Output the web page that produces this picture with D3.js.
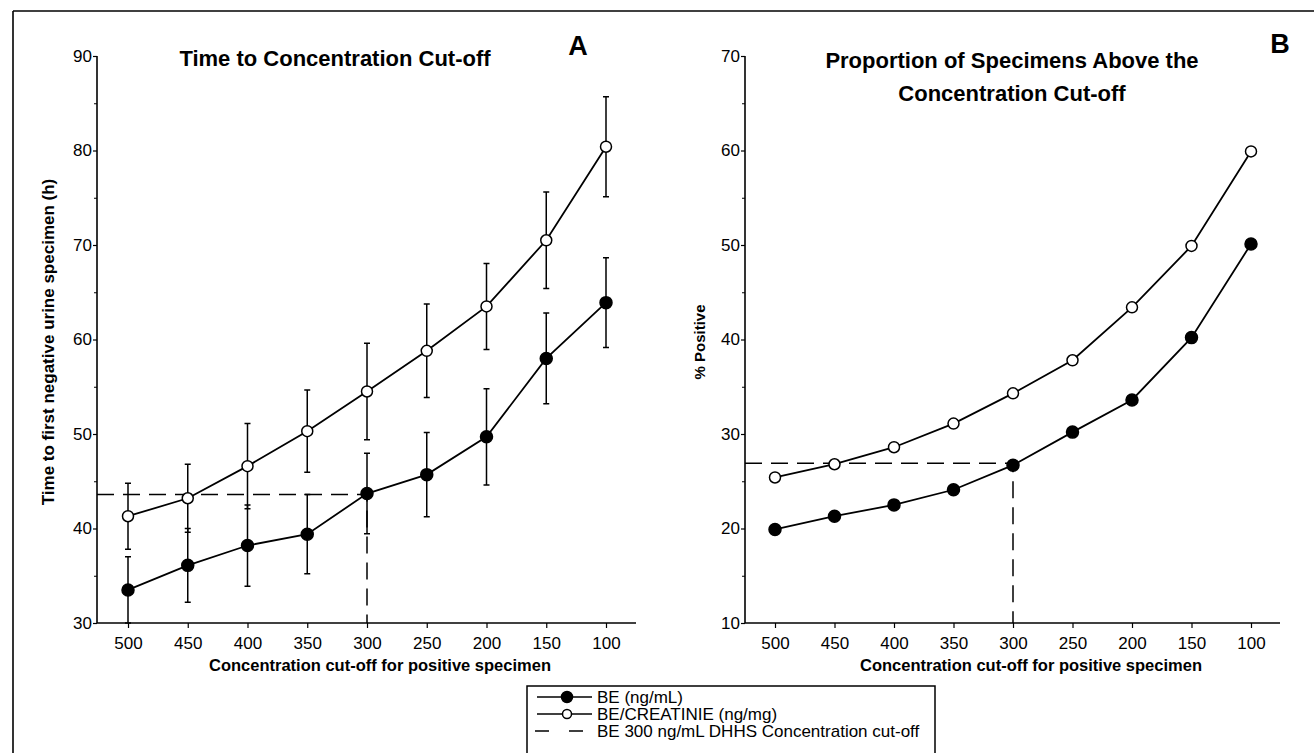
<!DOCTYPE html>
<html><head><meta charset="utf-8">
<script src="https://cdn.jsdelivr.net/npm/d3@7"></script>
<style>
html,body{margin:0;padding:0;background:#fff;}
svg{display:block;font-family:"Liberation Sans",Arial,Helvetica,sans-serif;}
</style></head>
<body><svg id="c" width="1314" height="753"></svg>
<script>
// ---- data ----
const cutoffs = [500, 450, 400, 350, 300, 250, 200, 150, 100];
const timeBE = [33.5, 36.1, 38.2, 39.4, 43.7, 45.7, 49.7, 58.0, 63.9];
const timeBEerr = [3.5, 3.9, 4.3, 4.2, 4.25, 4.45, 5.1, 4.8, 4.75];
const timeCR = [41.3, 43.2, 46.6, 50.3, 54.5, 58.8, 63.5, 70.5, 80.4];
const timeCRerr = [3.5, 3.6, 4.5, 4.35, 5.1, 4.95, 4.55, 5.1, 5.3];
const posBE = [19.9, 21.3, 22.5, 24.1, 26.7, 30.2, 33.6, 40.2, 50.1];
const posCR = [25.4, 26.8, 28.6, 31.1, 34.3, 37.8, 43.4, 49.9, 59.9];
const refCutoff = 300;
const refTime = 43.6;
const refPos = 26.9;
const yTicksA = [30, 40, 50, 60, 70, 80, 90];
const yTicksB = [10, 20, 30, 40, 50, 60, 70];
const legendLabels = ["BE (ng/mL)", "BE/CREATINIE (ng/mg)", "BE 300 ng/mL DHHS Concentration cut-off"];

const svg = d3.select("#c");
const FONT = '"Liberation Sans",Arial,Helvetica,sans-serif';

// frame
svg.append("line").attr("x1",13).attr("y1",11).attr("x2",1314).attr("y2",11).attr("stroke","#000").attr("stroke-width",1.6);
svg.append("line").attr("x1",13).attr("y1",11).attr("x2",13).attr("y2",753).attr("stroke","#000").attr("stroke-width",1.6);

function panel(opt){
  const g = svg.append("g");
  const x = d3.scalePoint().domain(cutoffs).range([opt.x0, opt.x1]);
  const y = d3.scaleLinear().domain(opt.ydom).range([opt.yb, opt.yt]);
  // y axis
  const minor = d3.range(opt.ydom[0], opt.ydom[1]+0.01, 5).filter(v => v % 10 !== 0);
  const ya = g.append("g").attr("transform",`translate(${opt.ax},0)`)
    .call(d3.axisLeft(y).tickValues(opt.yticks).tickSize(4).tickPadding(1).tickFormat(d3.format("d")));
  ya.select(".domain").attr("d",`M0,${y(opt.ydom[1])}V${opt.yb}`).attr("stroke-width",1.6);
  ya.selectAll("text").attr("font-size",17).attr("font-family",FONT).attr("fill","#000");
  ya.selectAll(".tick line").attr("stroke-width",1.2);
  g.append("g").attr("transform",`translate(${opt.ax},0)`)
    .call(d3.axisLeft(y).tickValues(minor).tickSize(3).tickFormat(""))
    .call(s=>s.select(".domain").remove());
  // x axis
  const xa = g.append("g").attr("transform",`translate(0,${opt.yb})`)
    .call(d3.axisBottom(x).tickSize(5).tickPadding(9));
  xa.select(".domain").attr("d",`M${opt.ax},0H${opt.axEnd}`).attr("stroke-width",1.6);
  xa.selectAll("text").attr("font-size",17).attr("font-family",FONT).attr("fill","#000");
  xa.selectAll(".tick line").attr("stroke-width",1.2);
  // axis titles
  g.append("text").attr("x",opt.xtX).attr("y",opt.yb+48).attr("text-anchor","middle")
    .attr("font-weight","bold").attr("font-size",16.5).text("Concentration cut-off for positive specimen");
  g.append("text").attr("transform",`translate(${opt.ytX},${opt.ytY}) rotate(-90)`).attr("text-anchor","middle")
    .attr("font-weight","bold").attr("font-size",opt.ytSize).text(opt.ytitle);
  // titles
  opt.title.forEach((t,i)=>{
    g.append("text").attr("x",opt.tX).attr("y",opt.tY + i*33).attr("text-anchor","middle")
      .attr("font-weight","bold").attr("font-size",22).text(t);
  });
  g.append("text").attr("x",opt.lX).attr("y",opt.lY).attr("text-anchor","middle")
    .attr("font-weight","bold").attr("font-size",27).text(opt.letter);
  // reference dashed lines
  g.append("path").attr("d",`M${opt.ax},${y(opt.refY)}H${x(refCutoff)}V${opt.yb}`)
    .attr("fill","none").attr("stroke","#000").attr("stroke-width",1.5).attr("stroke-dasharray","17,9");
  // error bars
  opt.series.forEach(s=>{
    if(!s.err) return;
    s.vals.forEach((v,i)=>{
      const cx = x(cutoffs[i]);
      const hi = y(v + s.err[i]);
      const loRaw = y(v - s.err[i]);
      const yl = Math.min(loRaw, opt.yb);
      g.append("path").attr("d",`M${cx},${hi}V${yl}M${cx-3},${hi}H${cx+3}` + (loRaw <= opt.yb ? `M${cx-3},${yl}H${cx+3}` : ""))
        .attr("stroke","#000").attr("stroke-width",1.5).attr("fill","none");
    });
  });
  // lines and markers
  const line = d3.line().x((d,i)=>x(cutoffs[i])).y(d=>y(d));
  opt.series.forEach(s=>{
    g.append("path").attr("d",line(s.vals)).attr("fill","none").attr("stroke","#000").attr("stroke-width",1.8);
  });
  opt.series.forEach(s=>{
    g.selectAll(null).data(s.vals).enter().append("circle")
      .attr("cx",(d,i)=>x(cutoffs[i])).attr("cy",d=>y(d))
      .attr("r", s.filled ? 6 : 5.5)
      .attr("fill", s.filled ? "#000" : "#fff").attr("stroke","#000").attr("stroke-width",1.5);
  });
}

panel({x0:128, x1:606, ax:97, axEnd:636, yb:623, yt:56, ydom:[30,90], yticks:yTicksA,
  xtX:380, ytX:54, ytY:342, ytSize:17, ytitle:"Time to first negative urine specimen (h)",
  title:["Time to Concentration Cut-off"], tX:335, tY:66, letter:"A", lX:578, lY:55, refY:refTime,
  series:[{vals:timeCR, err:timeCRerr, filled:false},{vals:timeBE, err:timeBEerr, filled:true}]});

panel({x0:775, x1:1251, ax:745, axEnd:1280, yb:623, yt:56, ydom:[10,70], yticks:yTicksB,
  xtX:1031, ytX:705, ytY:342, ytSize:15, ytitle:"% Positive",
  title:["Proportion of Specimens Above the","Concentration Cut-off"], tX:1012, tY:68, letter:"B", lX:1280, lY:53, refY:refPos,
  series:[{vals:posCR, filled:false},{vals:posBE, filled:true}]});

// legend
const lg = svg.append("g");
lg.append("path").attr("d","M527,753V686H935V753").attr("fill","none").attr("stroke","#000").attr("stroke-width",1.5);
const rows = [697, 714, 731];
legendLabels.forEach((t,i)=>{
  const yy = rows[i];
  if(i<2){
    lg.append("line").attr("x1",537).attr("x2",592).attr("y1",yy).attr("y2",yy).attr("stroke","#000").attr("stroke-width",1.6);
    lg.append("circle").attr("cx",567).attr("cy",yy).attr("r", i===0?5.5:4.5)
      .attr("fill", i===0?"#000":"#fff").attr("stroke","#000").attr("stroke-width",1.5);
  } else {
    lg.append("line").attr("x1",535).attr("x2",590).attr("y1",yy).attr("y2",yy).attr("stroke","#000")
      .attr("stroke-width",1.5).attr("stroke-dasharray","14,20");
  }
  lg.append("text").attr("x",597).attr("y",yy+6).attr("font-size",17).text(t);
});
</script></body></html>
